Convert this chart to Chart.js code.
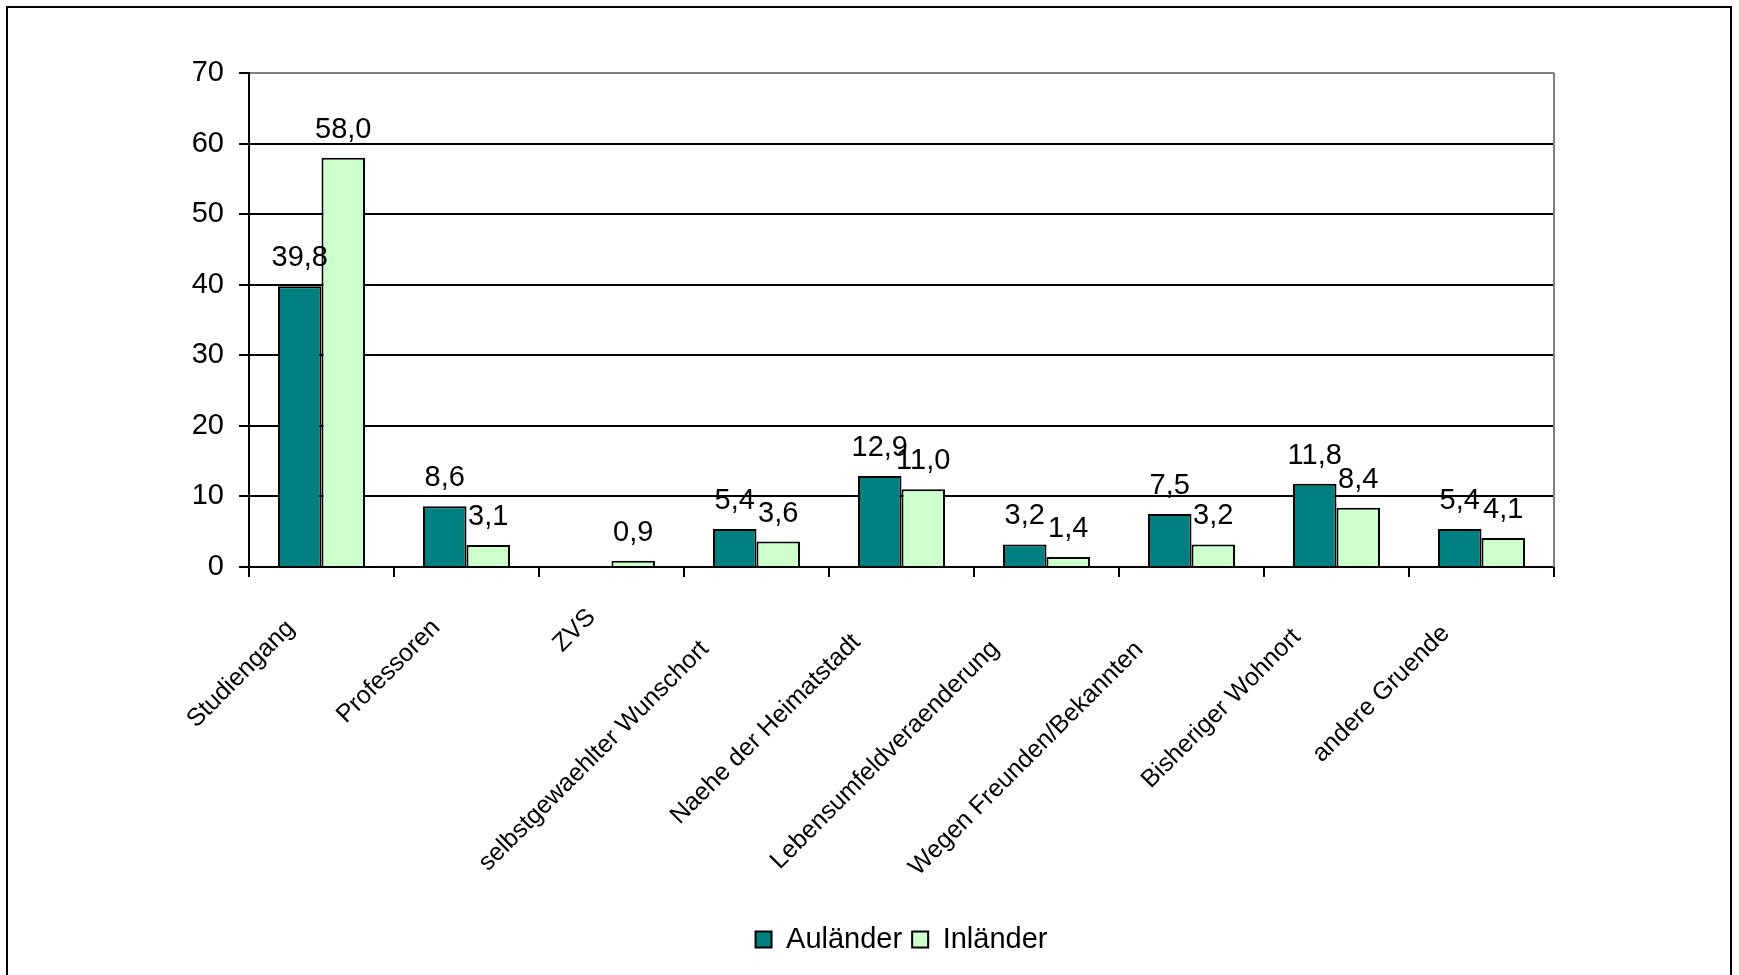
<!DOCTYPE html>
<html>
<head>
<meta charset="utf-8">
<script src="https://cdn.jsdelivr.net/npm/chart.js@4.4.1/dist/chart.umd.min.js"></script>
<style>
  html, body { margin: 0; padding: 0; background: #fff; overflow: hidden; }
  #wrap { position: absolute; left: 0; top: 0; width: 1739px; height: 975px; }
  #frame { position: absolute; left: 6px; top: 6px; width: 1726px; height: 1000px; border: 2px solid #000; box-sizing: border-box; pointer-events: none; }
  canvas { position: absolute; left: 0; top: 0; }
</style>
</head>
<body>
<div id="wrap">
  <canvas id="c" width="1739" height="975"></canvas>
  <div id="frame"></div>
</div>
<script>
const categories = [
  "Studiengang",
  "Professoren",
  "ZVS",
  "selbstgewaehlter Wunschort",
  "Naehe der Heimatstadt",
  "Lebensumfeldveraenderung",
  "Wegen Freunden/Bekannten",
  "Bisheriger Wohnort",
  "andere Gruende"
];
const seriesNames = ["Auländer", "Inländer"];
const auslaender = [39.8, 8.6, null, 5.4, 12.9, 3.2, 7.5, 11.8, 5.4];
const inlaender = [58.0, 3.1, 0.9, 3.6, 11.0, 1.4, 3.2, 8.4, 4.1];
const yTicks = [0, 10, 20, 30, 40, 50, 60, 70];

const FONT = "'Liberation Sans', Arial, sans-serif";

const dataLabels = {
  id: 'dataLabels',
  afterDatasetsDraw(chart) {
    const ctx = chart.ctx;
    ctx.save();
    ctx.font = "29px " + FONT;
    ctx.fillStyle = "#000";
    ctx.textAlign = "center";
    ctx.textBaseline = "alphabetic";
    chart.data.datasets.forEach((ds, di) => {
      const meta = chart.getDatasetMeta(di);
      meta.data.forEach((el, i) => {
        const v = ds.data[i];
        if (v === null || v === undefined) return;
        ctx.fillText(v.toFixed(1).replace('.', ','), el.x, el.y - 20);
      });
    });
    ctx.restore();
  }
};

const rightBorder = {
  id: 'rightBorder',
  beforeDatasetsDraw(chart) {
    const a = chart.chartArea;
    const ctx = chart.ctx;
    ctx.save();
    ctx.strokeStyle = "#808080";
    ctx.lineWidth = 2;
    ctx.beginPath();
    ctx.moveTo(a.right, a.top);
    ctx.lineTo(a.right, a.bottom);
    ctx.stroke();
    ctx.restore();
  }
};

// Slides each rotated category label along its own direction in proportion to its length
const labelSlide = {
  id: 'labelSlide',
  beforeDraw(chart) {
    const s = chart.scales.x;
    const items = s.getLabelItems(chart.chartArea);
    const ctx = chart.ctx;
    ctx.save();
    items.forEach(it => {
      if (it._slid) return;
      ctx.font = it.font.string;
      const w = ctx.measureText(String(it.label)).width;
      const k = 0.12 * w;
      const t = it.options.translation;
      it.options.translation = [t[0] - k, t[1] + k];
      it._slid = true;
    });
    ctx.restore();
  }
};

new Chart(document.getElementById('c'), {
  type: 'bar',
  data: {
    labels: categories,
    datasets: [
      { label: seriesNames[0], data: auslaender, backgroundColor: '#008080', borderColor: '#000', borderWidth: 2 },
      { label: seriesNames[1], data: inlaender, backgroundColor: '#CCFFCC', borderColor: '#000', borderWidth: 2 }
    ]
  },
  plugins: [labelSlide, dataLabels, rightBorder],
  options: {
    responsive: false,
    animation: false,
    devicePixelRatio: 1,
    categoryPercentage: 0.6,
    barPercentage: 1.0,
    layout: { padding: { left: 149, right: 185, top: 73, bottom: 11 } },
    plugins: {
      legend: {
        position: 'bottom',
        fullSize: false,
        labels: {
          color: '#000',
          font: { family: FONT, size: 29 },
          boxWidth: 16,
          boxHeight: 16,
          padding: 10
        }
      },
      tooltip: { enabled: false }
    },
    scales: {
      x: {
        offset: true,
        grid: {
          offset: true,
          drawOnChartArea: false,
          drawTicks: true,
          tickLength: 10,
          color: '#000',
          lineWidth: 2
        },
        border: { display: true, color: '#000', width: 2 },
        ticks: {
          color: '#000',
          font: { family: FONT, size: 25 },
          maxRotation: 45,
          minRotation: 45,
          autoSkip: false,
          padding: 20,
          labelOffset: -14
        },
        afterFit(s) { s.height = 348; }
      },
      y: {
        min: 0,
        max: 70,
        afterBuildTicks(s) { s.ticks = yTicks.map(v => ({ value: v })); },
        grid: {
          color: (c) => (c.tick && c.tick.value === 70 ? '#808080' : '#000'),
          lineWidth: 2,
          drawTicks: true,
          tickLength: 10,
          tickColor: '#000'
        },
        border: { display: true, color: '#000', width: 2 },
        ticks: {
          color: '#000',
          font: { family: FONT, size: 29 },
          padding: 15
        },
        afterFit(s) { s.width = 100; }
      }
    }
  }
});
</script>
</body>
</html>
